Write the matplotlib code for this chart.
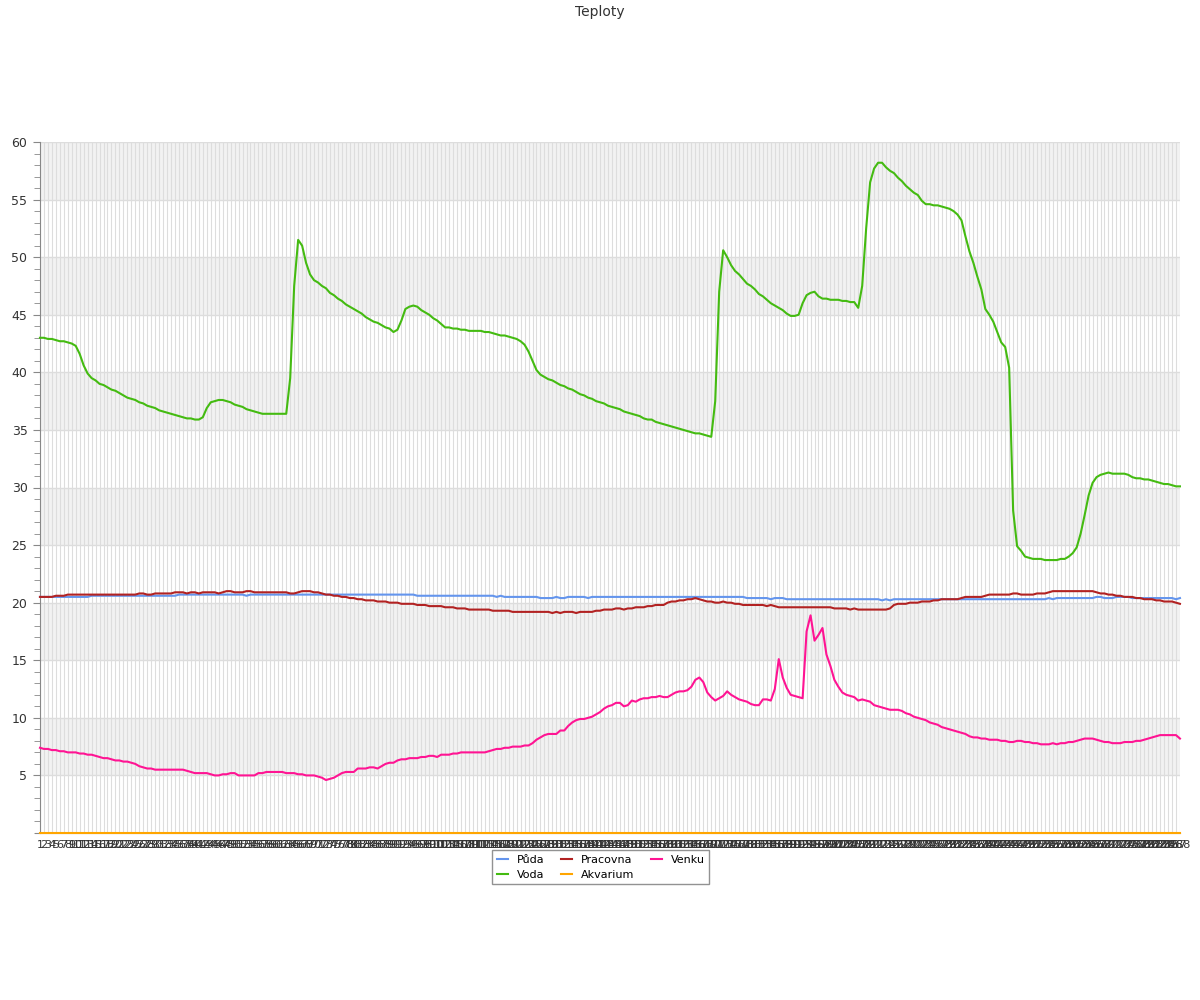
import numpy as np
import matplotlib
matplotlib.use('Agg')
import matplotlib.pyplot as plt
from matplotlib.ticker import MultipleLocator

# Data
labels = [str(i) for i in range(1, 289)]

puda = [
    20.5, 20.5, 20.5, 20.5, 20.5, 20.5, 20.5, 20.5, 20.5, 20.5,
    20.5, 20.5, 20.5, 20.6, 20.6, 20.6, 20.6, 20.6, 20.6, 20.6,
    20.6, 20.6, 20.6, 20.6, 20.6, 20.6, 20.6, 20.6, 20.6, 20.6,
    20.6, 20.6, 20.6, 20.6, 20.6, 20.7, 20.7, 20.7, 20.7, 20.7,
    20.7, 20.7, 20.7, 20.7, 20.7, 20.7, 20.7, 20.7, 20.7, 20.7,
    20.7, 20.7, 20.6, 20.7, 20.7, 20.7, 20.7, 20.7, 20.7, 20.7,
    20.7, 20.7, 20.7, 20.7, 20.7, 20.7, 20.7, 20.7, 20.7, 20.7,
    20.7, 20.7, 20.7, 20.7, 20.7, 20.7, 20.7, 20.7, 20.7, 20.7,
    20.7, 20.7, 20.7, 20.7, 20.7, 20.7, 20.7, 20.7, 20.7, 20.7,
    20.7, 20.7, 20.7, 20.7, 20.7, 20.6, 20.6, 20.6, 20.6, 20.6,
    20.6, 20.6, 20.6, 20.6, 20.6, 20.6, 20.6, 20.6, 20.6, 20.6,
    20.6, 20.6, 20.6, 20.6, 20.6, 20.5, 20.6, 20.5, 20.5, 20.5,
    20.5, 20.5, 20.5, 20.5, 20.5, 20.5, 20.4, 20.4, 20.4, 20.4,
    20.5, 20.4, 20.4, 20.5, 20.5, 20.5, 20.5, 20.5, 20.4, 20.5,
    20.5, 20.5, 20.5, 20.5, 20.5, 20.5, 20.5, 20.5, 20.5, 20.5,
    20.5, 20.5, 20.5, 20.5, 20.5, 20.5, 20.5, 20.5, 20.5, 20.5,
    20.5, 20.5, 20.5, 20.5, 20.5, 20.5, 20.5, 20.5, 20.5, 20.5,
    20.5, 20.5, 20.5, 20.5, 20.5, 20.5, 20.5, 20.5, 20.4, 20.4,
    20.4, 20.4, 20.4, 20.4, 20.3, 20.4, 20.4, 20.4, 20.3, 20.3,
    20.3, 20.3, 20.3, 20.3, 20.3, 20.3, 20.3, 20.3, 20.3, 20.3,
    20.3, 20.3, 20.3, 20.3, 20.3, 20.3, 20.3, 20.3, 20.3, 20.3,
    20.3, 20.3, 20.2, 20.3, 20.2, 20.3, 20.3, 20.3, 20.3, 20.3,
    20.3, 20.3, 20.3, 20.3, 20.3, 20.3, 20.3, 20.3, 20.3, 20.3,
    20.3, 20.3, 20.3, 20.3, 20.3, 20.3, 20.3, 20.3, 20.3, 20.3,
    20.3, 20.3, 20.3, 20.3, 20.3, 20.3, 20.3, 20.3, 20.3, 20.3,
    20.3, 20.3, 20.3, 20.3, 20.4, 20.3, 20.4, 20.4, 20.4, 20.4,
    20.4, 20.4, 20.4, 20.4, 20.4, 20.4, 20.5, 20.5, 20.4, 20.4,
    20.4, 20.5, 20.5, 20.5, 20.5, 20.4, 20.4, 20.4, 20.4, 20.4,
    20.4, 20.4, 20.4, 20.4, 20.4, 20.4, 20.3, 20.4,
]

voda = [
    43.0, 43.0, 42.9, 42.9, 42.8, 42.7, 42.7, 42.6, 42.5, 42.3,
    41.6, 40.6, 39.9, 39.5, 39.3, 39.0, 38.9, 38.7, 38.5, 38.4,
    38.2, 38.0, 37.8, 37.7, 37.6, 37.4, 37.3, 37.1, 37.0, 36.9,
    36.7, 36.6, 36.5, 36.4, 36.3, 36.2, 36.1, 36.0, 36.0, 35.9,
    35.9, 36.1, 36.9, 37.4, 37.5, 37.6, 37.6, 37.5, 37.4, 37.2,
    37.1, 37.0, 36.8, 36.7, 36.6, 36.5, 36.4, 36.4, 36.4, 36.4,
    36.4, 36.4, 36.4, 39.5, 47.5, 51.5, 51.0, 49.5, 48.5, 48.0,
    47.8, 47.5, 47.3, 46.9, 46.7, 46.4, 46.2, 45.9, 45.7, 45.5,
    45.3, 45.1, 44.8, 44.6, 44.4, 44.3, 44.1, 43.9, 43.8, 43.5,
    43.7, 44.5, 45.5, 45.7, 45.8, 45.7, 45.4, 45.2, 45.0, 44.7,
    44.5, 44.2, 43.9, 43.9, 43.8, 43.8, 43.7, 43.7, 43.6, 43.6,
    43.6, 43.6, 43.5, 43.5, 43.4, 43.3, 43.2, 43.2, 43.1, 43.0,
    42.9, 42.7, 42.4, 41.8, 41.0, 40.2, 39.8, 39.6, 39.4, 39.3,
    39.1, 38.9, 38.8, 38.6, 38.5, 38.3, 38.1, 38.0, 37.8, 37.7,
    37.5, 37.4, 37.3, 37.1, 37.0, 36.9, 36.8, 36.6, 36.5, 36.4,
    36.3, 36.2, 36.0, 35.9, 35.9, 35.7, 35.6, 35.5, 35.4, 35.3,
    35.2, 35.1, 35.0, 34.9, 34.8, 34.7, 34.7, 34.6, 34.5, 34.4,
    37.5, 47.0, 50.6, 50.0, 49.3, 48.8, 48.5, 48.1, 47.7, 47.5,
    47.2, 46.8, 46.6, 46.3, 46.0, 45.8, 45.6, 45.4, 45.1, 44.9,
    44.9, 45.0, 46.0, 46.7, 46.9, 47.0, 46.6, 46.4, 46.4, 46.3,
    46.3, 46.3, 46.2, 46.2, 46.1, 46.1, 45.6, 47.5, 52.5, 56.5,
    57.7, 58.2, 58.2, 57.8, 57.5, 57.3, 56.9, 56.6, 56.2, 55.9,
    55.6, 55.4, 54.9, 54.6, 54.6, 54.5, 54.5, 54.4, 54.3, 54.2,
    54.0, 53.7, 53.2, 51.8, 50.5, 49.5, 48.3, 47.2, 45.5, 45.0,
    44.4, 43.5, 42.6, 42.2, 40.4, 28.0, 24.9, 24.5, 24.0, 23.9,
    23.8, 23.8, 23.8, 23.7, 23.7, 23.7, 23.7, 23.8, 23.8, 24.0,
    24.3, 24.8, 26.0, 27.6, 29.3, 30.4, 30.9, 31.1, 31.2, 31.3,
    31.2, 31.2, 31.2, 31.2, 31.1, 30.9, 30.8, 30.8, 30.7, 30.7,
    30.6, 30.5, 30.4, 30.3, 30.3, 30.2, 30.1, 30.1,
]

pracovna = [
    20.5, 20.5, 20.5, 20.5, 20.6, 20.6, 20.6, 20.7, 20.7, 20.7,
    20.7, 20.7, 20.7, 20.7, 20.7, 20.7, 20.7, 20.7, 20.7, 20.7,
    20.7, 20.7, 20.7, 20.7, 20.7, 20.8, 20.8, 20.7, 20.7, 20.8,
    20.8, 20.8, 20.8, 20.8, 20.9, 20.9, 20.9, 20.8, 20.9, 20.9,
    20.8, 20.9, 20.9, 20.9, 20.9, 20.8, 20.9, 21.0, 21.0, 20.9,
    20.9, 20.9, 21.0, 21.0, 20.9, 20.9, 20.9, 20.9, 20.9, 20.9,
    20.9, 20.9, 20.9, 20.8, 20.8, 20.9, 21.0, 21.0, 21.0, 20.9,
    20.9, 20.8, 20.7, 20.7, 20.6, 20.6, 20.5, 20.5, 20.4, 20.4,
    20.3, 20.3, 20.2, 20.2, 20.2, 20.1, 20.1, 20.1, 20.0, 20.0,
    20.0, 19.9, 19.9, 19.9, 19.9, 19.8, 19.8, 19.8, 19.7, 19.7,
    19.7, 19.7, 19.6, 19.6, 19.6, 19.5, 19.5, 19.5, 19.4, 19.4,
    19.4, 19.4, 19.4, 19.4, 19.3, 19.3, 19.3, 19.3, 19.3, 19.2,
    19.2, 19.2, 19.2, 19.2, 19.2, 19.2, 19.2, 19.2, 19.2, 19.1,
    19.2, 19.1, 19.2, 19.2, 19.2, 19.1, 19.2, 19.2, 19.2, 19.2,
    19.3, 19.3, 19.4, 19.4, 19.4, 19.5, 19.5, 19.4, 19.5, 19.5,
    19.6, 19.6, 19.6, 19.7, 19.7, 19.8, 19.8, 19.8, 20.0, 20.1,
    20.1, 20.2, 20.2, 20.3, 20.3, 20.4, 20.3, 20.2, 20.1, 20.1,
    20.0, 20.0, 20.1, 20.0, 20.0, 19.9, 19.9, 19.8, 19.8, 19.8,
    19.8, 19.8, 19.8, 19.7, 19.8, 19.7, 19.6, 19.6, 19.6, 19.6,
    19.6, 19.6, 19.6, 19.6, 19.6, 19.6, 19.6, 19.6, 19.6, 19.6,
    19.5, 19.5, 19.5, 19.5, 19.4, 19.5, 19.4, 19.4, 19.4, 19.4,
    19.4, 19.4, 19.4, 19.4, 19.5, 19.8, 19.9, 19.9, 19.9, 20.0,
    20.0, 20.0, 20.1, 20.1, 20.1, 20.2, 20.2, 20.3, 20.3, 20.3,
    20.3, 20.3, 20.4, 20.5, 20.5, 20.5, 20.5, 20.5, 20.6, 20.7,
    20.7, 20.7, 20.7, 20.7, 20.7, 20.8, 20.8, 20.7, 20.7, 20.7,
    20.7, 20.8, 20.8, 20.8, 20.9, 21.0, 21.0, 21.0, 21.0, 21.0,
    21.0, 21.0, 21.0, 21.0, 21.0, 21.0, 20.9, 20.8, 20.8, 20.7,
    20.7, 20.6, 20.6, 20.5, 20.5, 20.5, 20.4, 20.4, 20.3, 20.3,
    20.3, 20.2, 20.2, 20.1, 20.1, 20.1, 20.0, 19.9,
]

akvarium = [0.0] * 288

venku = [
    7.4, 7.3, 7.3, 7.2, 7.2, 7.1, 7.1, 7.0, 7.0, 7.0,
    6.9, 6.9, 6.8, 6.8, 6.7, 6.6, 6.5, 6.5, 6.4, 6.3,
    6.3, 6.2, 6.2, 6.1, 6.0, 5.8, 5.7, 5.6, 5.6, 5.5,
    5.5, 5.5, 5.5, 5.5, 5.5, 5.5, 5.5, 5.4, 5.3, 5.2,
    5.2, 5.2, 5.2, 5.1, 5.0, 5.0, 5.1, 5.1, 5.2, 5.2,
    5.0, 5.0, 5.0, 5.0, 5.0, 5.2, 5.2, 5.3, 5.3, 5.3,
    5.3, 5.3, 5.2, 5.2, 5.2, 5.1, 5.1, 5.0, 5.0, 5.0,
    4.9, 4.8, 4.6, 4.7, 4.8, 5.0, 5.2, 5.3, 5.3, 5.3,
    5.6, 5.6, 5.6, 5.7, 5.7, 5.6, 5.8, 6.0, 6.1, 6.1,
    6.3, 6.4, 6.4, 6.5, 6.5, 6.5, 6.6, 6.6, 6.7, 6.7,
    6.6, 6.8, 6.8, 6.8, 6.9, 6.9, 7.0, 7.0, 7.0, 7.0,
    7.0, 7.0, 7.0, 7.1, 7.2, 7.3, 7.3, 7.4, 7.4, 7.5,
    7.5, 7.5, 7.6, 7.6, 7.8, 8.1, 8.3, 8.5, 8.6, 8.6,
    8.6, 8.9, 8.9, 9.3, 9.6, 9.8, 9.9, 9.9, 10.0, 10.1,
    10.3, 10.5, 10.8, 11.0, 11.1, 11.3, 11.3, 11.0, 11.1, 11.5,
    11.4, 11.6, 11.7, 11.7, 11.8, 11.8, 11.9, 11.8, 11.8, 12.0,
    12.2, 12.3, 12.3, 12.4, 12.7, 13.3, 13.5, 13.1, 12.2, 11.8,
    11.5, 11.7, 11.9, 12.3, 12.0, 11.8, 11.6, 11.5, 11.4, 11.2,
    11.1, 11.1, 11.6, 11.6, 11.5, 12.5, 15.1, 13.5, 12.6, 12.0,
    11.9, 11.8, 11.7, 17.5, 18.9, 16.7, 17.2, 17.8, 15.5, 14.5,
    13.3, 12.7, 12.2, 12.0, 11.9, 11.8, 11.5, 11.6, 11.5, 11.4,
    11.1, 11.0, 10.9, 10.8, 10.7, 10.7, 10.7, 10.6, 10.4, 10.3,
    10.1, 10.0, 9.9, 9.8, 9.6, 9.5, 9.4, 9.2, 9.1, 9.0,
    8.9, 8.8, 8.7, 8.6, 8.4, 8.3, 8.3, 8.2, 8.2, 8.1,
    8.1, 8.1, 8.0, 8.0, 7.9, 7.9, 8.0, 8.0, 7.9, 7.9,
    7.8, 7.8, 7.7, 7.7, 7.7, 7.8, 7.7, 7.8, 7.8, 7.9,
    7.9, 8.0, 8.1, 8.2, 8.2, 8.2, 8.1, 8.0, 7.9, 7.9,
    7.8, 7.8, 7.8, 7.9, 7.9, 7.9, 8.0, 8.0, 8.1, 8.2,
    8.3, 8.4, 8.5, 8.5, 8.5, 8.5, 8.5, 8.2,
]

series = [
    ('Půda', puda, '#6495ed'),
    ('Voda', voda, '#44bb11'),
    ('Pracovna', pracovna, '#b22222'),
    ('Akvarium', akvarium, '#ffa500'),
    ('Venku', venku, '#ff1493'),
]

x = np.arange(len(labels))

fig = plt.figure(figsize=(12, 10), dpi=100)
ax = fig.add_axes([0.0333, 0.167, 0.95, 0.691])

# Střídavé pruhy
for lo in range(5, 60, 10):
    ax.axhspan(lo, lo + 5, color='#f2f2f2', zorder=0, lw=0)

# Mřížka
for xi in x:
    ax.axvline(xi, color='#dddddd', lw=0.8, zorder=1)
for yv in range(5, 61, 5):
    ax.axhline(yv, color='#dddddd', lw=1, zorder=1)

for name, vals, col in series:
    ax.plot(x, vals, color=col, lw=1.5, label=name, zorder=3, clip_on=False)

ax.set_xlim(0, len(labels) - 1)
ax.set_ylim(0, 60)
ax.set_yticks(range(5, 61, 5))
ax.yaxis.set_minor_locator(MultipleLocator(1))
ax.tick_params(axis='y', which='major', length=5, color='#888888', labelcolor='#333333', labelsize=9, pad=4)
ax.tick_params(axis='y', which='minor', length=4, color='#888888')

ax.set_xticks(x)
ax.set_xticklabels(labels, fontsize=8, color='#333333')
ax.tick_params(axis='x', length=0, pad=5)

for s in ['top', 'right']:
    ax.spines[s].set_visible(False)
ax.spines['left'].set_color('#888888')
ax.spines['bottom'].set_color('#888888')
ax.spines['bottom'].set_bounds(-1.2, len(labels) - 1)

fig.text(0.5, 0.995, 'Teploty', ha='center', va='top', fontsize=10, color='#333333')

leg = ax.legend(loc='upper center', bbox_to_anchor=(0.492, -0.017), ncol=3, fontsize=8,
                frameon=True, fancybox=False, edgecolor='#777777', handlelength=1.0,
                handletextpad=0.8, columnspacing=1.5, borderpad=0.4, labelspacing=0.45)
leg.get_frame().set_linewidth(1)

plt.savefig('out.png', dpi=100)
